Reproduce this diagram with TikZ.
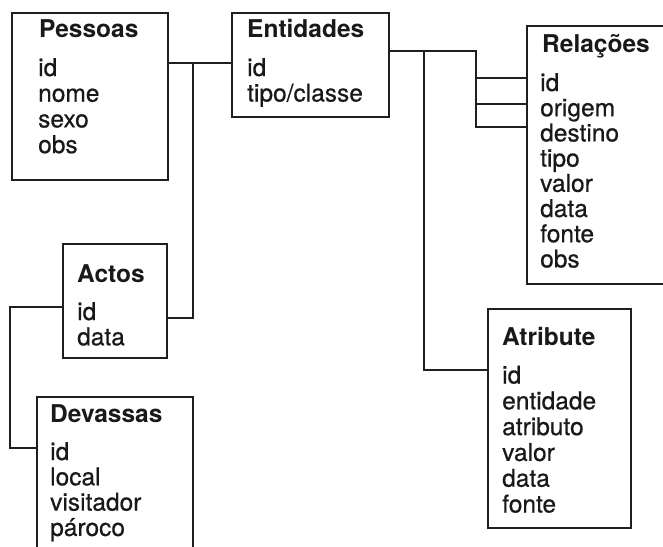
\documentclass[tikz,border=0pt]{standalone}
\usepackage{fontspec}
\setmainfont{TeX Gyre Heros}
\newfontfamily\fieldfont[FakeBold=0.6]{TeX Gyre Heros}
\begin{document}
\begin{tikzpicture}[x=1pt,y=-1pt,
  table/.style={draw=black!88, line width=2.4pt, anchor=north west, inner sep=0pt},
  title/.style={anchor=base west, inner sep=0pt, text=black!90,
    font=\fontsize{24.5}{25}\selectfont\bfseries},
  field/.style={anchor=base west, inner sep=0pt, text=black!90,
    font=\fieldfont\fontsize{24.5}{25}\selectfont},
  link/.style={draw=black!88, line width=2.4pt}]
\useasboundingbox (0,0) rectangle (663,546);
\clip (0,0) rectangle (663,546);

% tables
\node[table, minimum width=156pt, minimum height=167pt] (pessoas)   at (11,12)  {};
\node[table, minimum width=157pt, minimum height=104pt] (entidades) at (231,12) {};
\node[table, minimum width=170pt, minimum height=258pt] (relacoes)  at (526,25) {};
\node[table, minimum width=104pt, minimum height=114pt] (actos)     at (62,243) {};
\node[table, minimum width=156pt, minimum height=170pt] (devassas)  at (36,396) {};
\node[table, minimum width=143pt, minimum height=219pt] (atribute)  at (487,308) {};

% titles
\node[title] (pessoas-t)   at (39,37)   {Pessoas};
\node[title] (entidades-t) at (247,37)  {Entidades};
\node[title] (relacoes-t)  at (542,52)  {Relações};
\node[title] (actos-t)     at (77,282)  {Actos};
\node[title] (devassas-t)  at (50,422)  {Devassas};
\node[title] (atribute-t)  at (502,345) {Atribute};

% fields
\foreach \t [count=\i] in {id,nome,sexo,obs}
  \node[field] (pessoas-f\i) at (38,{76+25.7*(\i-1)}) {\t};
\foreach \t [count=\i] in {id,tipo/classe}
  \node[field] (entidades-f\i) at (247,{76+25.5*(\i-1)}) {\t};
\foreach \t [count=\i] in {id,origem,destino,tipo,valor,data,fonte,obs}
  \node[field] (relacoes-f\i) at (540,{91+25.2*(\i-1)}) {\t};
\foreach \t [count=\i] in {id,data}
  \node[field] (actos-f\i) at (77,{320+25.3*(\i-1)}) {\t};
\foreach \t [count=\i] in {id,local,visitador,pároco}
  \node[field] (devassas-f\i) at (50,{460+25.3*(\i-1)}) {\t};
\foreach \t [count=\i] in {id,entidade,atributo,valor,data,fonte}
  \node[field] (atribute-f\i) at (502,{383.5+25.8*(\i-1)}) {\t};

% junction points
\coordinate (j1) at (193,63);
\coordinate (j2) at (193,318);
\coordinate (k1) at (10,307);
\coordinate (k2) at (10,448);
\coordinate (r0) at (476,51);
\coordinate (r1) at (476,78);
\coordinate (r2) at (476,104);
\coordinate (r3) at (476,127);
\coordinate (a0) at (424,51);
\coordinate (a1) at (424,370);

% connectors
\draw[link] (pessoas.east |- j1) -- (entidades.west |- j1);
\draw[link] (j1) -- (j2) -- (actos.east |- j2);
\draw[link] (actos.west |- k1) -- (k1) -- (k2) -- (devassas.west |- k2);
\draw[link] (entidades.east |- r0) -- (r0) -- (r3) -- (relacoes.west |- r3);
\draw[link] (r1) -- (relacoes.west |- r1);
\draw[link] (r2) -- (relacoes.west |- r2);
\draw[link] (a0) -- (a1) -- (atribute.west |- a1);
\end{tikzpicture}
\end{document}
